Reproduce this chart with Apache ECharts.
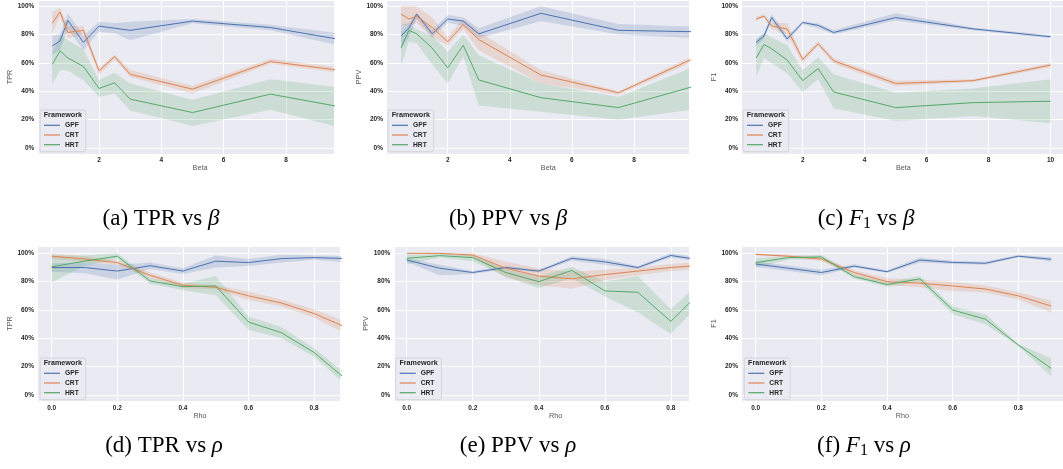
<!DOCTYPE html>
<html>
<head>
<meta charset="utf-8">
<title>TPR / PPV / F1 vs beta and rho</title>
<script src="https://cdn.jsdelivr.net/npm/echarts@6/dist/echarts.min.js"></script>
<style>
html, body { margin: 0; padding: 0; background: #fff; }
#chart { width: 1063px; height: 469px; }
</style>
</head>
<body>
<div id="chart"></div>
<script>
var frameworks = ['GPF', 'CRT', 'HRT'];
var betaValues = [0.5, 0.75, 1, 1.5, 2, 2.5, 3, 5, 7.5, 10];
var rhoValues = [0, 0.1, 0.2, 0.3, 0.4, 0.5, 0.6, 0.7, 0.8, 0.9];

// (a) TPR vs beta, in %
var tprBetaGPF   = [72, 75.5, 90, 74.5, 86, 84.5, 83, 89.5, 85, 75.5];
var tprBetaGPFLo = [66, 69, 84, 69, 82, 81, 76, 88, 83, 71];
var tprBetaGPFHi = [79, 80, 95, 79, 89, 88, 89, 91, 87, 80];
var tprBetaCRT   = [88, 96, 81.5, 83, 54.5, 64.5, 52, 41.5, 61, 54];
var tprBetaCRTLo = [81, 93, 77, 80, 51.5, 62.5, 50, 38.5, 59.5, 52];
var tprBetaCRTHi = [96, 99, 86, 86, 56.5, 66, 55, 44, 63, 56];
var tprBetaHRT   = [59, 68.5, 63.5, 57.5, 42, 46, 34.5, 25, 38, 28];
var tprBetaHRTLo = [45, 55, 54.5, 48, 36, 38.5, 26.5, 15.5, 27, 13];
var tprBetaHRTHi = [66.5, 80, 76, 69.5, 48, 53, 45.5, 34, 48.5, 42];

// (b) PPV vs beta
var ppvBetaGPF   = [79, 84.5, 94.5, 80.5, 91, 89.5, 80.5, 95, 83, 82];
var ppvBetaGPFLo = [71, 78, 91, 78, 88.5, 86, 77.5, 89.5, 80, 77.5];
var ppvBetaGPFHi = [87, 88, 95.5, 83, 94, 92, 84.5, 100, 87.5, 85.5];
var ppvBetaCRT   = [94.5, 91, 93, 85, 75, 87, 76.5, 51.5, 39, 64];
var ppvBetaCRTLo = [87, 86, 88, 78, 72.5, 84, 69, 45.5, 37.5, 62];
var ppvBetaCRTHi = [100, 100, 100, 92, 78.5, 90.5, 82, 55, 40, 66];
var ppvBetaHRT   = [70.5, 83, 80.5, 70.5, 56.5, 72.5, 48, 35.5, 28.5, 44];
var ppvBetaHRTLo = [58.5, 75, 74, 59, 45.5, 64.5, 30, 25.5, 20, 27.5];
var ppvBetaHRTHi = [82, 87, 84, 79, 68, 80, 65.5, 45.5, 36, 58];

// (c) F1 vs beta
var f1BetaGPF   = [74.5, 79, 92, 77, 88.5, 86.5, 81.5, 92, 84, 78.5];
var f1BetaGPFLo = [72, 77, 89.5, 75, 87.5, 84.5, 80, 90, 83, 77.5];
var f1BetaGPFHi = [77, 81, 94.5, 79, 89.5, 88, 83, 95, 85, 79.5];
var f1BetaCRT   = [91, 93, 86, 84, 62.5, 73.5, 61.5, 45.5, 47.5, 58.5];
var f1BetaCRTLo = [89.5, 92, 84, 80, 60, 72, 59.5, 43.5, 46.5, 57];
var f1BetaCRTHi = [92.5, 94.5, 88.5, 88, 64.5, 75.5, 63.5, 47.5, 48.5, 60];
var f1BetaHRT   = [63.5, 73, 70, 62, 47.5, 56, 39.5, 28.5, 32, 33];
var f1BetaHRTLo = [50, 63.5, 60, 52.5, 39.5, 48.5, 28, 19, 22.5, 17.5];
var f1BetaHRTHi = [76, 81, 78, 72.5, 55, 64, 52, 39, 42, 48.5];

// (d) TPR vs rho
var tprRhoGPF   = [90, 90, 87.5, 91.3, 87.5, 94.5, 93.5, 96.3, 97, 96.3];
var tprRhoGPFLo = [87, 86, 81.5, 89, 85.5, 90, 91, 93.5, 95.5, 93.5];
var tprRhoGPFHi = [93, 93.5, 92, 93.5, 89.5, 98.5, 96, 99, 98.5, 98];
var tprRhoCRT   = [98, 96, 93.5, 84.5, 77.5, 76, 70, 65, 57.5, 47.5];
var tprRhoCRTLo = [96, 94, 92, 82.5, 75.5, 74.5, 67, 62.5, 54.5, 43];
var tprRhoCRTHi = [100, 98, 95, 86.5, 79.5, 77.5, 73, 67.5, 60.5, 51.5];
var tprRhoHRT   = [90.5, 94.5, 98, 80.5, 76.5, 77, 51.5, 44, 30, 10.5];
var tprRhoHRTLo = [79.5, 91, 96, 78.5, 74, 70.5, 46, 40, 27, 6.5];
var tprRhoHRTHi = [98.5, 98.5, 100, 82.5, 78.5, 84, 55.5, 48, 33, 14.5];

// (e) PPV vs rho
var ppvRhoGPF   = [95.3, 89.5, 86.5, 90, 87.5, 96.5, 94, 90, 98.5, 95];
var ppvRhoGPFLo = [94, 84.5, 85.5, 89, 86.5, 95, 92, 89, 97, 93.5];
var ppvRhoGPFHi = [96.5, 92, 87.5, 91, 88.5, 98, 96, 91, 100, 96.5];
var ppvRhoCRT   = [100, 100, 98.8, 89.5, 84, 82, 85, 87.5, 90, 91.7];
var ppvRhoCRTLo = [99.5, 99.5, 97.5, 83, 77.5, 75, 81, 84.5, 87.5, 89];
var ppvRhoCRTHi = [100, 100, 100, 94, 89.5, 87, 88.5, 90, 92.5, 94];
var ppvRhoHRT   = [96.5, 98.4, 97, 86.5, 80, 88, 73.5, 72.5, 52, 75];
var ppvRhoHRTLo = [92, 97, 94.5, 83.5, 75.5, 82.5, 69.5, 58.5, 43, 67.5];
var ppvRhoHRTHi = [98.8, 99.5, 98.8, 89, 83.5, 90.5, 80, 84, 60.5, 82];

// (f) F1 vs rho
var f1RhoGPF   = [92.5, 89.5, 86.5, 91, 87, 95.3, 93.6, 93, 98, 95.8];
var f1RhoGPFLo = [90.5, 87.5, 84.5, 90, 86.3, 93.5, 92.5, 92, 97.3, 94.2];
var f1RhoGPFHi = [94.3, 91.5, 88.5, 92.3, 88, 97, 94.7, 94.2, 98.8, 97.3];
var f1RhoCRT   = [99.3, 98, 96, 86.5, 80, 79, 77, 74.8, 70, 62.8];
var f1RhoCRTLo = [98.5, 97, 94.5, 84.5, 77.5, 76, 73.5, 72.3, 67.5, 58];
var f1RhoCRTHi = [100, 99, 97.5, 88, 82.5, 81.5, 80, 77.3, 72.5, 66.5];
var f1RhoHRT   = [93.5, 97, 97.5, 83.5, 78, 82, 60, 53.5, 35.3, 18.8];
var f1RhoHRTLo = [90, 95.5, 96, 82, 76.5, 80, 57, 50, 34.5, 13];
var f1RhoHRTHi = [96.5, 98, 99, 85, 79.5, 84, 62.5, 57, 36, 26];

var colors = { GPF: '#4c72b0', CRT: '#dd8452', HRT: '#55a868' };

// layout of the six sub-figures (pixels); the originals were cropped on the right
var panels = [
    { x: betaValues, mean: [tprBetaGPF, tprBetaCRT, tprBetaHRT], lo: [tprBetaGPFLo, tprBetaCRTLo, tprBetaHRTLo], hi: [tprBetaGPFHi, tprBetaCRTHi, tprBetaHRTHi],
      xName: 'Beta', yName: 'TPR', caption: '(a) TPR vs {i|β}', grid: [38, 0, 296, 154], xr: [0.042, 9.54], yr: [-4.23, 104.4],
      nameShift: 14, yGap: 21, leg: [40, 110], cap: [161, 219] },
    { x: betaValues, mean: [ppvBetaGPF, ppvBetaCRT, ppvBetaHRT], lo: [ppvBetaGPFLo, ppvBetaCRTLo, ppvBetaHRTLo], hi: [ppvBetaGPFHi, ppvBetaCRTHi, ppvBetaHRTHi],
      xName: 'Beta', yName: 'PPV', caption: '(b) PPV vs {i|β}', grid: [386.7, 0, 302.3, 154], xr: [0.035, 9.77], yr: [-4.23, 104.4],
      nameShift: 10.4, yGap: 22.7, leg: [388, 110], cap: [508, 219] },
    { x: betaValues, mean: [f1BetaGPF, f1BetaCRT, f1BetaHRT], lo: [f1BetaGPFLo, f1BetaCRTLo, f1BetaHRTLo], hi: [f1BetaGPFHi, f1BetaCRTHi, f1BetaHRTHi],
      xName: 'Beta', yName: 'F1', caption: '(c) {i|F}{s|1} vs {i|β}', grid: [741.7, 0, 321.3, 154], xr: [0.032, 10.4], yr: [-4.23, 104.4],
      nameShift: 1, yGap: 22, leg: [743, 110], cap: [866, 219] },
    { x: rhoValues, mean: [tprRhoGPF, tprRhoCRT, tprRhoHRT], lo: [tprRhoGPFLo, tprRhoCRTLo, tprRhoHRTLo], hi: [tprRhoGPFHi, tprRhoCRTHi, tprRhoHRTHi],
      xName: 'Rho', yName: 'TPR', caption: '(d) TPR vs {i|ρ}', grid: [37.7, 246, 303, 155], xr: [-0.0427, 0.881], yr: [-4.23, 105.2],
      nameShift: 10.8, yGap: 21, leg: [40, 358], cap: [164, 446] },
    { x: rhoValues, mean: [ppvRhoGPF, ppvRhoCRT, ppvRhoHRT], lo: [ppvRhoGPFLo, ppvRhoCRTLo, ppvRhoHRTLo], hi: [ppvRhoGPFHi, ppvRhoCRTHi, ppvRhoHRTHi],
      xName: 'Rho', yName: 'PPV', caption: '(e) PPV vs {i|ρ}', grid: [394, 246, 295, 155], xr: [-0.0385, 0.855], yr: [-4.23, 105.2],
      nameShift: 14.2, yGap: 21.7, leg: [395.7, 358], cap: [518, 446] },
    { x: rhoValues, mean: [f1RhoGPF, f1RhoCRT, f1RhoHRT], lo: [f1RhoGPFLo, f1RhoCRTLo, f1RhoHRTLo], hi: [f1RhoGPFHi, f1RhoCRTHi, f1RhoHRTHi],
      xName: 'Rho', yName: 'F1', caption: '(f) {i|F}{s|1} vs {i|ρ}', grid: [741.7, 246, 321.3, 155], xr: [-0.0427, 0.936], yr: [-4.23, 105.2],
      nameShift: 0, yGap: 22, leg: [744.3, 358], cap: [864, 446] }
];

function pairs(xs, ys) {
    var res = [];
    for (var i = 0; i < xs.length; i++) res.push([xs[i], ys[i]]);
    return res;
}
function triples(xs, lo, hi) {
    var res = [];
    for (var i = 0; i < xs.length; i++) res.push([xs[i], lo[i], hi[i]]);
    return res;
}

// whole confidence band drawn once, as one polygon, from the first item
function renderBand(params, api) {
    if (params.dataIndexInside !== 0) return null;
    var n = params.dataInsideLength;
    var upper = [], lower = [];
    for (var i = 0; i < n; i++) {
        upper.push(api.coord([api.value(0, i), api.value(2, i)]));
        lower.push(api.coord([api.value(0, i), api.value(1, i)]));
    }
    var cs = params.coordSys;
    return {
        type: 'polygon',
        shape: { points: upper.concat(lower.reverse()) },
        style: { fill: api.visual('color'), opacity: 0.2 },
        clipPath: { type: 'rect', shape: { x: cs.x, y: cs.y, width: cs.width, height: cs.height } },
        silent: true
    };
}

var grids = [], xAxes = [], yAxes = [], legends = [], titles = [], series = [];
var tickStyle = { fontSize: 6.5, fontWeight: 'bold', color: '#262626' };
var nameStyle = { fontSize: 7.2, color: '#555' };

for (var p = 0; p < panels.length; p++) {
    var pn = panels[p];
    var rho = pn.xName === 'Rho';
    grids.push({
        left: pn.grid[0], top: pn.grid[1], width: pn.grid[2], height: pn.grid[3],
        show: true, backgroundColor: '#eaeaf2', borderWidth: 0
    });
    xAxes.push({
        type: 'value', gridIndex: p, min: pn.xr[0], max: pn.xr[1],
        name: pn.xName, nameLocation: 'middle', nameGap: 10,
        nameTextStyle: { fontSize: nameStyle.fontSize, color: nameStyle.color, padding: [0, 0, 0, pn.nameShift * 2] },
        axisLine: { show: false }, axisTick: { show: false },
        axisLabel: {
            margin: rho ? 3.5 : 2.5, fontSize: tickStyle.fontSize, fontWeight: tickStyle.fontWeight, color: tickStyle.color,
            showMinLabel: false, showMaxLabel: false,
            formatter: rho ? function (v) { return v.toFixed(1); } : function (v) { return String(v); }
        },
        splitLine: { lineStyle: { color: '#fff', width: 1 } }
    });
    yAxes.push({
        type: 'value', gridIndex: p, min: pn.yr[0], max: pn.yr[1],
        name: pn.yName, nameLocation: 'middle', nameGap: pn.yGap, nameRotate: 90,
        nameTextStyle: nameStyle,
        axisLine: { show: false }, axisTick: { show: false },
        axisLabel: {
            margin: 3.7, fontSize: tickStyle.fontSize, fontWeight: tickStyle.fontWeight, color: tickStyle.color,
            showMinLabel: false, showMaxLabel: false, formatter: '{value}%'
        },
        splitLine: { lineStyle: { color: '#fff', width: 1 } }
    });
    legends.push({
        left: pn.leg[0], top: pn.leg[1], orient: 'vertical', data: frameworks,
        icon: 'rect', itemWidth: 16, itemHeight: 1.2, itemGap: 2.7,
        padding: [11.8, 7, 3.5, 4], selectedMode: false,
        backgroundColor: 'rgba(234,234,242,0.8)', borderColor: 'rgba(204,204,210,0.9)', borderWidth: 0.8, borderRadius: 2,
        textStyle: { fontSize: 6.7, fontWeight: 'bold', color: '#262626', lineHeight: 7 }
    });
    titles.push({
        text: 'Framework', left: pn.leg[0] + 3.7, top: pn.leg[1] + 2, padding: 0, z: 10,
        textStyle: { fontSize: 7.2, fontWeight: 'bold', color: '#262626' }
    });
    titles.push({
        text: pn.caption, left: pn.cap[0], top: pn.cap[1], padding: 0,
        textAlign: 'center', textVerticalAlign: 'middle',
        textStyle: {
            fontFamily: 'Liberation Serif', fontSize: 23, fontWeight: 'normal', color: '#000',
            rich: {
                i: { fontFamily: 'Liberation Serif', fontStyle: 'italic', fontSize: 23, color: '#000' },
                s: { fontFamily: 'Liberation Serif', fontSize: 16, color: '#000', verticalAlign: 'bottom', padding: [10, 0, 0, 0] }
            }
        }
    });
    for (var f = 0; f < frameworks.length; f++) {
        var fw = frameworks[f];
        series.push({
            name: fw + ' band', type: 'custom', xAxisIndex: p, yAxisIndex: p,
            data: triples(pn.x, pn.lo[f], pn.hi[f]),
            encode: { x: 0, y: [1, 2] },
            renderItem: renderBand, silent: true,
            itemStyle: { color: colors[fw] }
        });
        series.push({
            name: fw, type: 'line', xAxisIndex: p, yAxisIndex: p,
            data: pairs(pn.x, pn.mean[f]), symbol: 'none',
            color: colors[fw], itemStyle: { color: colors[fw] },
            lineStyle: { color: colors[fw], width: 1 }
        });
    }
}

var chart = echarts.init(document.getElementById('chart'));
chart.setOption({
    animation: false,
    textStyle: { fontFamily: 'Liberation Sans' },
    grid: grids,
    xAxis: xAxes,
    yAxis: yAxes,
    legend: legends,
    title: titles,
    series: series
});
window.addEventListener('resize', function () {
    chart.resize();
});
</script>
</body>
</html>
